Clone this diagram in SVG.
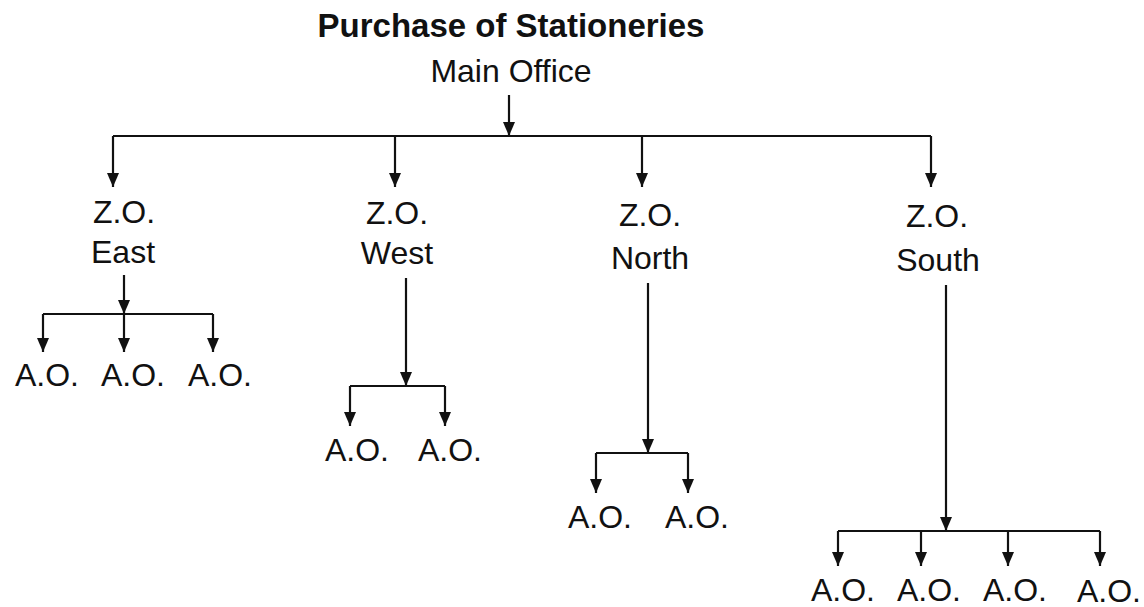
<svg xmlns="http://www.w3.org/2000/svg" width="1144" height="607" viewBox="0 0 1144 607">
<style>
text{font-family:"Liberation Sans",Arial,sans-serif;font-size:32px;fill:#111;text-anchor:middle}
.title{font-weight:bold;font-size:33px}
.c line{stroke:#111;stroke-width:2.2;fill:none}
</style>
<defs>
<marker id="a2" markerUnits="userSpaceOnUse" markerWidth="14" markerHeight="12" viewBox="0 0 14 12" refX="14" refY="6" orient="auto">
<path d="M0,0 L14,6 L0,12 Z" fill="#111"/>
</marker>
</defs>
<rect width="1144" height="607" fill="#fff"/>
<g id="title"><text class="title" x="511" y="37">Purchase of Stationeries</text></g>
<g id="main-office"><text x="511" y="82">Main Office</text></g>
<g id="zo-east"><text x="124" y="223">Z.O.</text><text x="123" y="263">East</text></g>
<g id="zo-west"><text x="397" y="224">Z.O.</text><text x="397" y="264">West</text></g>
<g id="zo-north"><text x="650" y="226">Z.O.</text><text x="650" y="269">North</text></g>
<g id="zo-south"><text x="937" y="227">Z.O.</text><text x="938" y="271">South</text></g>
<g id="ao-east"><text x="47" y="386">A.O.</text><text x="133" y="386">A.O.</text><text x="220" y="386">A.O.</text></g>
<g id="ao-west"><text x="357" y="461">A.O.</text><text x="450" y="461">A.O.</text></g>
<g id="ao-north"><text x="600" y="528">A.O.</text><text x="697" y="528">A.O.</text></g>
<g id="ao-south"><text x="843" y="601">A.O.</text><text x="929" y="601">A.O.</text><text x="1015" y="601">A.O.</text><text x="1109" y="602">A.O.</text></g>
<g id="connectors" class="c">
<line x1="509" y1="95" x2="509" y2="136" marker-end="url(#a2)"/>
<line x1="113" y1="136" x2="931" y2="136"/>
<line x1="113" y1="136" x2="113" y2="187" marker-end="url(#a2)"/>
<line x1="395" y1="136" x2="395" y2="187" marker-end="url(#a2)"/>
<line x1="642" y1="136" x2="642" y2="187" marker-end="url(#a2)"/>
<line x1="931" y1="136" x2="931" y2="187" marker-end="url(#a2)"/>
<line x1="124" y1="275" x2="124" y2="314" marker-end="url(#a2)"/>
<line x1="43" y1="314" x2="213" y2="314"/>
<line x1="43" y1="314" x2="43" y2="352" marker-end="url(#a2)"/>
<line x1="124" y1="314" x2="124" y2="352" marker-end="url(#a2)"/>
<line x1="213" y1="314" x2="213" y2="352" marker-end="url(#a2)"/>
<line x1="406" y1="278" x2="406" y2="386" marker-end="url(#a2)"/>
<line x1="350" y1="386" x2="445" y2="386"/>
<line x1="350" y1="386" x2="350" y2="426" marker-end="url(#a2)"/>
<line x1="445" y1="386" x2="445" y2="426" marker-end="url(#a2)"/>
<line x1="648" y1="283" x2="648" y2="453" marker-end="url(#a2)"/>
<line x1="596" y1="453" x2="688" y2="453"/>
<line x1="596" y1="453" x2="596" y2="493" marker-end="url(#a2)"/>
<line x1="688" y1="453" x2="688" y2="493" marker-end="url(#a2)"/>
<line x1="946" y1="285" x2="946" y2="531" marker-end="url(#a2)"/>
<line x1="838" y1="531" x2="1100" y2="531"/>
<line x1="838" y1="531" x2="838" y2="566" marker-end="url(#a2)"/>
<line x1="921" y1="531" x2="921" y2="566" marker-end="url(#a2)"/>
<line x1="1008" y1="531" x2="1008" y2="566" marker-end="url(#a2)"/>
<line x1="1100" y1="531" x2="1100" y2="566" marker-end="url(#a2)"/>
</g>
</svg>
